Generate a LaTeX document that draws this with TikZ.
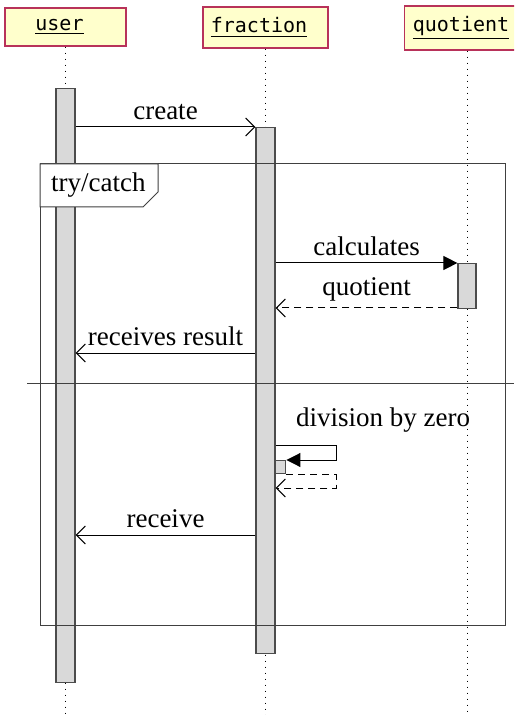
\documentclass[tikz,border=0pt]{standalone}
\usepackage{fontspec}
\setmainfont{Liberation Serif}
\setmonofont{DejaVu Sans Mono}
\usetikzlibrary{arrows.meta}

\definecolor{headfill}{HTML}{FFFFCC}
\definecolor{headline}{HTML}{B8325A}
\definecolor{barfill}{HTML}{D9D9D9}

\begin{document}
\begin{tikzpicture}[
    x=0.5pt, y=-0.5pt,
    every node/.style={font=\fontsize{13.5}{16}\selectfont},
    instance/.style={rectangle, draw=headline, fill=headfill, line width=0.6pt,
        minimum height=19pt, inner sep=0pt, font=\fontsize{10}{12}\selectfont\ttfamily},
    lifeline/.style={line width=0.5pt, dash pattern=on 0.5pt off 2.5pt},
    activation/.style={rectangle, draw=black!70, fill=barfill, line width=0.6pt,
        inner sep=0pt, minimum width=9.5pt, anchor=north},
    call/.style={line width=0.5pt, -{Triangle[length=7pt,width=7pt]}},
    msg/.style={line width=0.5pt, -{Straight Barb[length=4.5pt,width=9pt]}},
    reply/.style={msg, dash pattern=on 3.5pt off 2.5pt},
    frame/.style={draw=black!75, line width=0.5pt}
]
\clip (0,0) rectangle (514,715);

% instances
\node[instance, minimum width=60.5pt] (user) at (65.5,27) {\underline{user}\kern6pt};
\node[instance, minimum width=62.5pt, minimum height=20.5pt] (fraction) at (265.5,27.5) {\underline{fraction}\kern6.5pt};
\node[instance, minimum width=62.5pt, minimum height=22pt] (quotient) at (467,28) {\underline{quotient}\kern6pt};

% lifelines
\coordinate (bottom) at (0,715);
\draw[lifeline] (user) -- (user |- bottom);
\draw[lifeline] (fraction) -- (fraction |- bottom);
\draw[lifeline] (quotient) -- (quotient |- bottom);

% activations
\node[activation, minimum height=297pt] (userbar) at (65.5,88) {};
\node[activation, minimum height=263pt] (fracbar) at (265.5,127) {};
\node[activation, minimum width=9pt, minimum height=22.5pt] (quotbar) at (467,263) {};
\node[activation, minimum width=5pt, minimum height=6.5pt, anchor=north west] (selfbar) at (275.25,460) {};

% try/catch block
\draw[frame] (40,164) rectangle (505,625);
\draw[frame] (27,383) -- (514,383);
\draw[frame, fill=white] (40,164) -- (158,164) -- (158,192) -- (143,207) -- (40,207) -- cycle;
\node[anchor=west] (trylabel) at (44,185.5) {try/catch};

% messages
\coordinate (t1) at (0,127);
\coordinate (t2) at (0,263);
\coordinate (t3) at (0,308);
\coordinate (t4) at (0,353);
\coordinate (t5) at (0,445);
\coordinate (t6) at (0,488);
\coordinate (t7) at (0,535);
\coordinate (loop) at (336,0);

\draw[msg] (userbar.east |- t1) -- node[above] {create} (fracbar.west |- t1);
\draw[call] (fracbar.east |- t2) -- node[above] {calculates} (quotbar.west |- t2);
\draw[reply] (quotbar.west |- t3) -- node[above] {quotient} (fracbar.east |- t3);
\draw[msg] (fracbar.west |- t4) -- node[above] {receives result} (userbar.east |- t4);

\node (divlabel) at (383,420) {division by zero};
\draw[call] (fracbar.east |- t5) -| (loop |- selfbar.north) -- (selfbar.north east);
\draw[reply] (selfbar.south east) -- (loop |- selfbar.south) |- (fracbar.east |- t6);

\draw[msg] (fracbar.west |- t7) -- node[above] {receive} (userbar.east |- t7);

\end{tikzpicture}
\end{document}
